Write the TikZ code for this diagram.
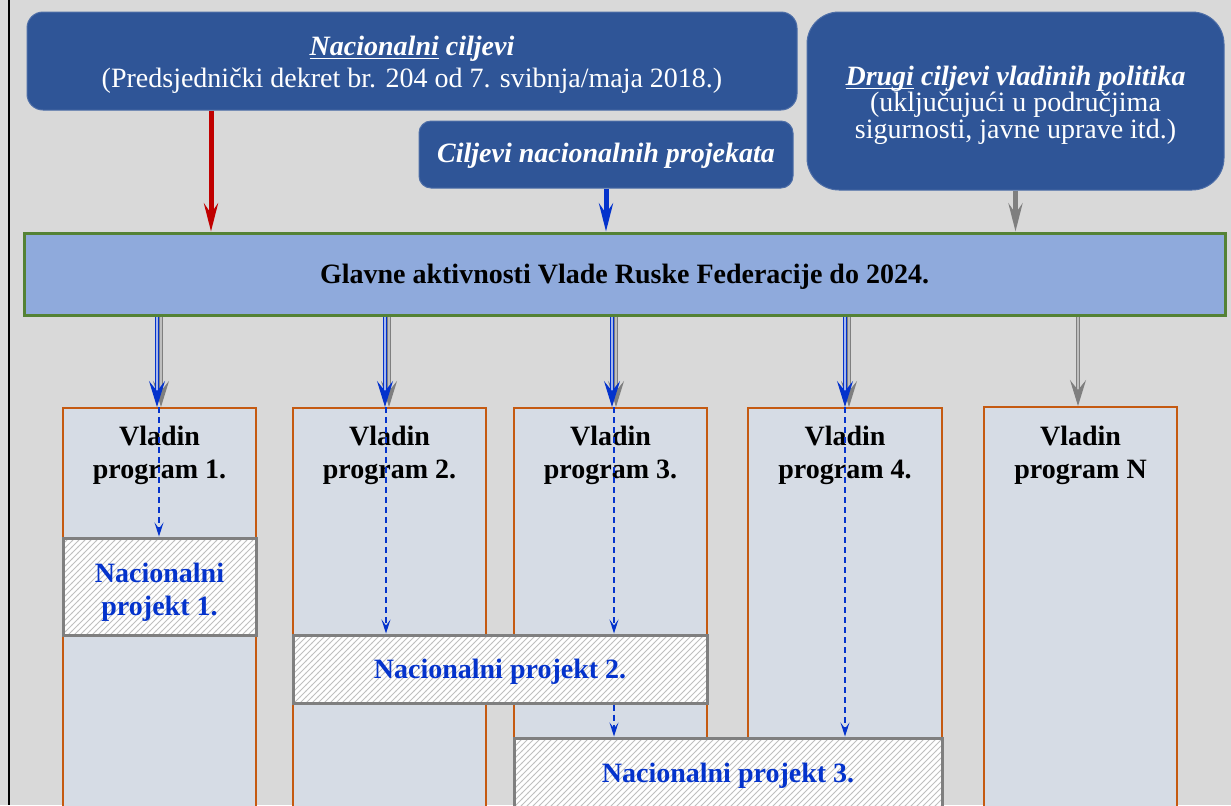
\documentclass[tikz,border=0pt]{standalone}
\usepackage{fontspec}
\setmainfont{Liberation Serif}
\usetikzlibrary{arrows.meta,patterns,positioning}
\definecolor{bgGray}{HTML}{D9D9D9}
\definecolor{goalBlue}{HTML}{2F5597}
\definecolor{barBlue}{HTML}{8FAADC}
\definecolor{barGreen}{HTML}{548235}
\definecolor{progFill}{HTML}{D6DCE5}
\definecolor{progEdge}{HTML}{C55A11}
\definecolor{projBlue}{HTML}{0433CC}
\definecolor{arrRed}{HTML}{C00000}
\definecolor{arrGray}{HTML}{7F7F7F}
\newcommand{\ulword}[1]{\underline{\smash{#1}}}
\begin{document}
\begin{tikzpicture}[x=0.5pt, y=-0.5pt,
    every node/.style={font=\fontsize{14}{16}\selectfont, inner sep=0pt},
    goal/.style={fill=goalBlue, draw=goalBlue!85!white, line width=0.5pt},
    goaltext/.style={text=white, align=center},
    mainbar/.style={fill=barBlue, draw=barGreen, line width=1.5pt},
    prog/.style={fill=progFill, draw=progEdge, line width=1.2pt, anchor=north, minimum height=215pt},
    progtitle/.style={font=\fontsize{14}{16.5}\selectfont\bfseries, align=center},
    proj/.style={preaction={fill=white}, pattern=north east lines, pattern color=gray!50,
      draw=arrGray, line width=1.5pt},
    projtext/.style={text=projBlue, align=center, font=\fontsize{14}{16.5}\selectfont\bfseries},
    goalarr/.style={line width=2.5pt, -{Stealth[length=14pt, width=7pt, inset=5pt]}},
    progarr/.style={draw=projBlue, double=projBlue!35!white, line width=0.7pt, double distance=1pt,
      -{Stealth[length=13pt, width=8pt, inset=5pt]}},
    shadowarr/.style={draw=arrGray, double=arrGray!50!white, line width=0.7pt, double distance=1pt,
      -{Stealth[length=13pt, width=8pt, inset=5pt]}},
    projarr/.style={draw=projBlue, line width=0.6pt, dash pattern=on 3pt off 2pt,
      -{Stealth[length=7pt, width=4.5pt, inset=3pt]}}
  ]
  \fill[bgGray] (0,0) rectangle (1231,805);
  \useasboundingbox (0,0) rectangle (1231,805);
  \clip (0,0) rectangle (1231,805);
  \draw[black, line width=1pt] (9,0) -- (9,805);

  % goals
  \node[goal, rounded corners=8pt, minimum width=385pt, minimum height=49pt] (natgoal) at (412,61) {};
  \node[goaltext] (natgoalt) at (412,65)
    {\textbf{\textit{\ulword{Nacionalni} ciljevi}}\\(Predsjednički dekret br. 204 od 7. svibnja/maja 2018.)};
  \node[goal, rounded corners=6pt, minimum width=187pt, minimum height=33.5pt] (projgoal) at (606,154.5) {};
  \node[goaltext] (projgoalt) at (606,156) {\textbf{\textit{Ciljevi nacionalnih projekata}}};
  \node[goal, rounded corners=16pt, minimum width=208.5pt, minimum height=89pt] (othgoal) at (1015.5,101) {};
  \node[goaltext, font=\fontsize{14}{13.3}\selectfont] (othgoalt) at (1015.5,105)
    {\textbf{\textit{\ulword{Drugi} ciljevi vladinih politika}}\\(uključujući u područjima\\sigurnosti, javne uprave itd.)};

  \node[mainbar, minimum width=600.5pt, minimum height=41pt] (mainbar) at (624.5,274) {};
  \node[font=\fontsize{14}{16}\selectfont\bfseries] (mainbart) at (624.5,277)
    {Glavne aktivnosti Vlade Ruske Federacije do 2024.};

  \draw[goalarr, arrRed] (natgoal.south -| 211,0) -- (mainbar.north -| 211,0);
  \draw[goalarr, projBlue] (projgoal.south) -- (projgoal.south |- mainbar.north);
  \draw[goalarr, arrGray] (othgoal.south) -- (othgoal.south |- mainbar.north);

  % programs
  \node[prog, minimum width=96.5pt] (p1) at (159.5,407) {};
  \node[prog, minimum width=96.5pt] (p2) at (389.5,407) {};
  \node[prog, minimum width=96.5pt] (p3) at (610.5,407) {};
  \node[prog, minimum width=97pt] (p4) at (845,407) {};
  \node[prog, minimum width=96.5pt] (pn) at (1080.5,406) {};
  \node[progtitle] (p1t) at (159.5,455) {Vladin\\program 1.};
  \node[progtitle] (p2t) at (389.5,455) {Vladin\\program 2.};
  \node[progtitle] (p3t) at (610.5,455) {Vladin\\program 3.};
  \node[progtitle] (p4t) at (845,455) {Vladin\\program 4.};
  \node[progtitle] (pnt) at (1080.5,455) {Vladin\\program N};

  % national projects
  \node[proj, minimum width=96.5pt, minimum height=48.5pt] (np1) at (159.5,586.5) {};
  \node[proj, minimum width=207pt, minimum height=34pt] (np2) at (500,669) {};
  \node[proj, minimum width=214pt, minimum height=36pt] (np3) at (728,774) {};
  \node[projtext] (np1t) at (159.5,592) {Nacionalni\\projekt 1.};
  \node[projtext] (np2t) at (500,672) {Nacionalni projekt 2.};
  \node[projtext] (np3t) at (728,776) {Nacionalni projekt 3.};

  \draw[projarr] (p1.north -| 159,0) -- (np1.north -| 159,0);
  \draw[projarr] (p2.north -| 386,0) -- (np2.north -| 386,0);
  \draw[projarr] (p3.north -| 614,0) -- (np2.north -| 614,0);
  \draw[projarr] (np2.south -| 614,0) -- (np3.north -| 614,0);
  \draw[projarr] (p4.north -| 845,0) -- (np3.north -| 845,0);

  \foreach \px/\sx/\pn in {157/161/p1, 385/389/p2, 612/616/p3, 845/849/p4} {
    \draw[shadowarr] (mainbar.south -| \sx,0) -- (\pn.north -| \sx,0);
    \draw[progarr] (mainbar.south -| \px,0) -- (\pn.north -| \px,0);
  }
  \draw[shadowarr] (mainbar.south -| 1078,0) -- (pn.north -| 1078,0);
\end{tikzpicture}
\end{document}
